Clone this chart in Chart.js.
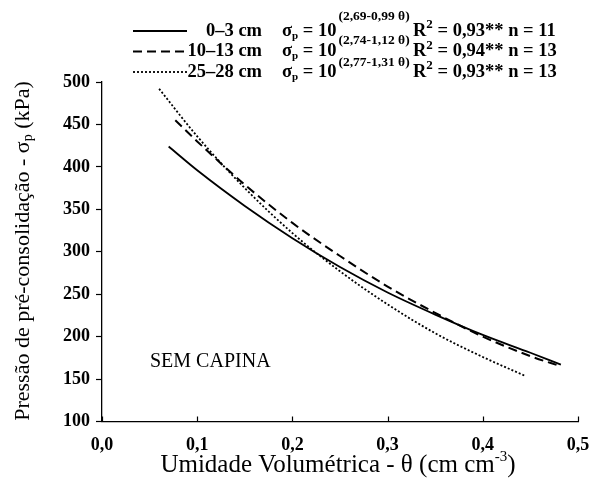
<!DOCTYPE html>
<html>
<head>
<meta charset="utf-8">
<script src="https://cdn.jsdelivr.net/npm/chart.js@4/dist/chart.umd.min.js"></script>
<style>
  html, body { margin: 0; padding: 0; background: #fff; }
  #wrap { width: 591px; height: 485px; }
</style>
</head>
<body>
<div id="wrap"><canvas id="sigmaChart" width="591" height="485"></canvas></div>
<script>
// Umidade volumétrica (θ) e pressão de pré-consolidação (kPa)
let thetaSolid  = [0.07, 0.1, 0.15, 0.2, 0.25, 0.3, 0.35, 0.4, 0.45, 0.482]
let pressSolid  = [424, 396, 354, 316, 282, 252, 226, 202, 181, 167]
let thetaDashed = [0.077, 0.1, 0.15, 0.2, 0.25, 0.3, 0.35, 0.4, 0.45, 0.482]
let pressDashed = [455, 430, 379, 334, 295, 259, 228, 200, 177, 165]
let thetaDotted = [0.06, 0.1, 0.15, 0.2, 0.25, 0.3, 0.35, 0.4, 0.444]
let pressDotted = [492, 436, 375, 322, 277, 238, 204, 176, 154]

let depthLabels = ['0–3 cm', '10–13 cm', '25–28 cm']
let eqExponents = ['(2,69-0,99 θ)', '(2,74-1,12 θ)', '(2,77-1,31 θ)']
let r2Labels    = [' = 0,93** n = 11', ' = 0,94** n = 13', ' = 0,93** n = 13']

let serif = '"Liberation Serif", "Times New Roman", serif'

function toPoints(xs, ys) {
    return xs.map((x, i) => ({ x: x, y: ys[i] }))
}

// draws a row of text pieces, each with its own font and vertical shift
function drawRuns(ctx, x, y, runs) {
    runs.forEach(r => {
        ctx.font = r.font
        ctx.fillText(r.t, x, y + (r.dy || 0))
        x += ctx.measureText(r.t).width + (r.gap || 0)
    })
    return x
}

let textPlugin = {
    id: 'textPlugin',
    afterDraw(chart) {
        let ctx = chart.ctx
        let xs = chart.scales.x
        let area = chart.chartArea
        ctx.save()
        ctx.fillStyle = '#000'
        ctx.strokeStyle = '#000'

        // x ticks point up into the plot
        ctx.lineWidth = 1.2
        for (let v = 0; v <= 0.5001; v += 0.1) {
            let px = Math.round(xs.getPixelForValue(v)) + 0.5
            ctx.beginPath()
            ctx.moveTo(px, area.bottom)
            ctx.lineTo(px, area.bottom - 5)
            ctx.stroke()
        }

        // legend
        let rowsY = [31, 51.5, 72]
        let supY  = [17, 41, 63]
        let styles = chart.data.datasets
        let big = 'bold 18.5px ' + serif
        ctx.textBaseline = 'middle'
        rowsY.forEach((y, i) => {
            ctx.lineWidth = styles[i].borderWidth
            ctx.setLineDash(styles[i].borderDash || [])
            ctx.beginPath()
            ctx.moveTo(133, y)
            ctx.lineTo(187, y)
            ctx.stroke()
            ctx.setLineDash([])

            ctx.font = big
            ctx.textAlign = 'right'
            ctx.fillText(depthLabels[i], 262, y)
            ctx.textAlign = 'left'
            let x = drawRuns(ctx, 282, y, [
                { t: 'σ', font: big },
                { t: 'p', font: 'bold 11px ' + serif, dy: 5 },
                { t: ' = 10', font: big, gap: 2 }
            ])
            ctx.font = 'bold 13.5px ' + serif
            ctx.fillText(eqExponents[i], x, supY[i])
            drawRuns(ctx, 413, y, [
                { t: 'R', font: big },
                { t: '2', font: 'bold 13px ' + serif, dy: -6 },
                { t: r2Labels[i], font: big }
            ])
        })

        // annotation
        ctx.font = '20px ' + serif
        ctx.fillText('SEM CAPINA', 150, 362)

        // x title
        let xRuns = [
            { t: 'Umidade Volumétrica - θ (cm cm', font: '25px ' + serif },
            { t: '-3', font: '15px ' + serif, dy: -8 },
            { t: ')', font: '25px ' + serif }
        ]
        let w = 0
        xRuns.forEach(r => { ctx.font = r.font; w += ctx.measureText(r.t).width })
        drawRuns(ctx, 338 - w / 2, 465, xRuns)

        // y title
        let yRuns = [
            { t: 'Pressão de pré-consolidação - σ', font: '22px ' + serif },
            { t: 'p', font: '14px ' + serif, dy: 5 },
            { t: ' (kPa)', font: '22px ' + serif }
        ]
        w = 0
        yRuns.forEach(r => { ctx.font = r.font; w += ctx.measureText(r.t).width })
        ctx.translate(23, 251)
        ctx.rotate(-Math.PI / 2)
        drawRuns(ctx, -w / 2, 0, yRuns)
        ctx.restore()
    }
}

let sctx = document.getElementById('sigmaChart').getContext('2d')

let sigmaChart = new Chart(sctx, {
    type: 'line',
    data: {
        datasets: [{
            label: depthLabels[0],
            data: toPoints(thetaSolid, pressSolid),
            borderColor: '#000',
            borderWidth: 1.8
        }, {
            label: depthLabels[1],
            data: toPoints(thetaDashed, pressDashed),
            borderColor: '#000',
            borderWidth: 2,
            borderDash: [9, 5]
        }, {
            label: depthLabels[2],
            data: toPoints(thetaDotted, pressDotted),
            borderColor: '#000',
            borderWidth: 1.8,
            borderDash: [2, 2]
        }]
    },
    options: {
        responsive: false,
        animation: false,
        devicePixelRatio: 1,
        layout: { padding: { top: 82, right: 13, left: 0, bottom: 0 } },
        elements: {
            point: { radius: 0 },
            line: { cubicInterpolationMode: 'monotone', fill: false }
        },
        plugins: {
            legend: { display: false },
            tooltip: { enabled: false }
        },
        scales: {
            x: {
                type: 'linear',
                min: 0,
                max: 0.5,
                afterFit: s => { s.height = 63.5 },
                border: { color: '#000', width: 1.3 },
                // invisible tick marks just push the labels down
                grid: { drawOnChartArea: false, drawTicks: true, tickLength: 13, tickColor: 'rgba(0,0,0,0)' },
                ticks: {
                    stepSize: 0.1,
                    padding: 0,
                    color: '#000',
                    font: { family: serif, size: 18, weight: 'bold' },
                    callback: v => v.toFixed(1).replace('.', ',')
                }
            },
            y: {
                min: 100,
                max: 500,
                afterFit: s => { s.width = 102 },
                border: { color: '#000', width: 1.3 },
                grid: { drawOnChartArea: false, tickLength: 6, color: '#000', tickWidth: 1.2 },
                ticks: {
                    stepSize: 50,
                    padding: 6,
                    color: '#000',
                    font: { family: serif, size: 18, weight: 'bold' }
                }
            }
        }
    },
    plugins: [textPlugin]
})
</script>
</body>
</html>
